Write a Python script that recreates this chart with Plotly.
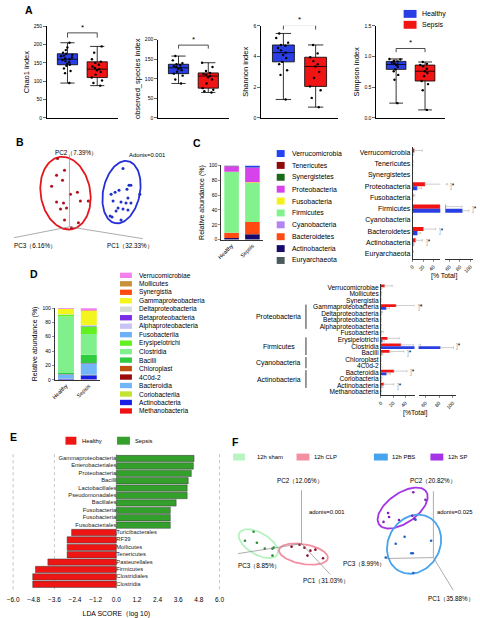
import numpy as np
import plotly.graph_objects as go

W, H = 480, 618
FONT = "Liberation Sans, Arial, Helvetica, sans-serif"

# ======================= DATA =======================
groups = ["Healthy", "Sepsis"]

# ---- A: alpha diversity (sample values per group) ----
chao1_healthy = [95, 122, 128, 135, 142, 145, 148, 152, 155, 158, 160, 162, 165, 168, 170, 172, 175, 178, 185, 192, 205]
chao1_sepsis = [88, 95, 102, 110, 118, 125, 130, 133, 136, 140, 145, 150, 153, 160, 178, 195]
obs_healthy = [88, 98, 108, 113, 118, 122, 125, 128, 130, 132, 135, 137, 140, 147, 158]
obs_sepsis = [65, 68, 72, 76, 88, 98, 104, 107, 110, 112, 115, 120, 130, 141]
shannon_healthy = [1.2, 2.8, 3.1, 3.5, 3.65, 3.9, 4.1, 4.25, 4.4, 4.55, 4.7, 4.75, 4.9, 5.2, 5.5]
shannon_sepsis = [0.7, 1.3, 1.8, 2.05, 2.6, 3.0, 3.35, 3.5, 3.7, 3.95, 4.2, 4.75]
simpson_healthy = [0.24, 0.62, 0.70, 0.76, 0.79, 0.83, 0.86, 0.87, 0.89, 0.90, 0.92, 0.93, 0.95, 0.96]
simpson_sepsis = [0.13, 0.45, 0.55, 0.60, 0.68, 0.73, 0.76, 0.80, 0.84, 0.86, 0.88, 0.91]
# box summaries: min, Q1, median, Q3, max
chao1_box_healthy = [95, 145, 160, 175, 205]
chao1_box_sepsis = [88, 110, 133, 153, 195]
obs_box_healthy = [88, 113, 128, 137, 158]
obs_box_sepsis = [65, 76, 107, 115, 141]
shannon_box_healthy = [1.2, 3.65, 4.25, 4.75, 5.5]
shannon_box_sepsis = [0.7, 2.05, 3.35, 3.95, 4.75]
simpson_box_healthy = [0.24, 0.79, 0.87, 0.92, 0.96]
simpson_box_sepsis = [0.13, 0.60, 0.76, 0.86, 0.91]
chao1_ticks = [0, 50, 100, 150, 200, 250]
obs_ticks = [0, 50, 100, 150, 200]
shannon_ticks = [0, 2, 4, 6]
simpson_ticks = [0, 0.5, 1.0, 1.5]

# ---- B: PCoA projected scores ----
b_sepsis_pc_x = [54, 61, 53, 59, 48, 67, 74, 53, 60, 57, 63, 77, 85, 61, 75, 68]
b_sepsis_pc_y = [157, 169, 174, 179, 185, 193, 191, 201, 202, 208, 207, 200, 200, 219, 222, 227]
b_healthy_pc_x = [120, 126, 128, 116, 112, 108, 124, 137, 125, 118, 123, 115, 113, 120, 125, 107, 109, 118, 110, 128]
b_healthy_pc_y = [167, 184, 184, 189, 191, 193, 188, 193, 197, 201, 202, 207, 210, 208, 209, 215, 216, 219, 200, 202]
# ellipse: centre x, centre y, semi-major, semi-minor, tilt(deg)
b_ellipse_sepsis = [62, 192, 37, 25, 9.5]
b_ellipse_healthy = [118.5, 191, 32, 18.5, -11.8]

# ---- C: phylum level (legend order, top -> bottom) ----
phyla = ["Verrucomicrobia", "Tenericutes", "Synergistetes", "Proteobacteria", "Fusobacteria",
         "Firmicutes", "Cyanobacteria", "Bacteroidetes", "Actinobacteria", "Euryarchaeota"]
phyla_colors = ["#2342F2", "#8E0A0A", "#1B6A1B", "#D743EA", "#F2F21A",
                "#82F28C", "#B383F2", "#FF4A12", "#170A6B", "#4A5B5B"]
phyla_stack_healthy = [0.6, 0.3, 0.1, 7.6, 0.3, 81.6, 0.1, 7.3, 2.0, 0.1]
phyla_stack_sepsis = [2.8, 0.2, 0.1, 19.5, 1.0, 52.5, 0.1, 16.5, 7.0, 0.3]
phyla_mean_healthy = [0.5, 0.2, 0.0, 9.0, 0.2, 85.0, 0.0, 9.5, 1.5, 0.0]
phyla_sd_healthy = [1.0, 0.3, 0.0, 8.0, 0.3, 12.0, 0.0, 6.0, 1.5, 0.0]
phyla_mean_sepsis = [3.5, 0.3, 0.0, 24.0, 1.5, 53.0, 0.0, 21.0, 6.0, 0.5]
phyla_sd_sepsis = [15.0, 0.5, 0.0, 32.0, 3.0, 31.0, 0.0, 23.0, 13.0, 1.0]
phyla_sig = ["", "", "", "*", "", "*", "", "*", "*", ""]

# ---- D: class level (legend order, top -> bottom) ----
classes = ["Verrucomicrobiae", "Mollicutes", "Synergistia", "Gammaproteobacteria", "Deltaproteobacteria",
           "Betaproteobacteria", "Alphaproteobacteria", "Fusobacteriia", "Erysipelotrichi", "Clostridia",
           "Bacilli", "Chloroplast", "4C0d-2", "Bacteroidia", "Coriobacteriia", "Actinobacteria", "Methanobacteria"]
classes_bar_labels = ["Verrucomicrobiae", "Mollicutes", "Synergistia", "Gammaproteobacteria", "Deltaproteobacteria",
                      "Betaproteobacteria", "Alphaproteobacteria", "Fusobacteria", "Erysipelotrichi", "Clostridia",
                      "Bacilli", "Chloroplast", "4C0d-2", "Bacteroidia", "Coriobacteria", "Actinobacteria", "Methanobacteria"]
class_colors = ["#F580EE", "#C8903A", "#FF4A12", "#F5F51E", "#D5DCD5", "#7A2CE6", "#C9C3F5", "#6FB1F6",
                "#62F01E", "#80F08C", "#2ECC3E", "#C0500E", "#9A0B0B", "#72B6F8", "#C2E332", "#1A1FE6", "#F01212"]
class_stack_healthy = [0.8, 0.4, 0.1, 7.3, 0.2, 0.1, 0.1, 0.3, 2.5, 78.6, 1.5, 0.1, 0.1, 6.0, 0.3, 1.5, 0.0]
class_stack_sepsis = [2.8, 0.6, 0.3, 19.5, 1.5, 0.3, 0.2, 0.3, 10.5, 28.7, 11.5, 0.1, 0.2, 16.2, 0.5, 6.0, 0.5]
class_mean_healthy = [0.5, 0.2, 0.0, 9.0, 0.3, 0.1, 0.1, 0.2, 2.5, 82.0, 1.5, 0.0, 0.0, 9.5, 0.3, 1.5, 0.0]
class_sd_healthy = [1.0, 0.3, 0.0, 5.0, 0.3, 0.1, 0.1, 0.3, 3.0, 19.0, 2.0, 0.0, 0.0, 6.0, 0.5, 2.0, 0.0]
class_mean_sepsis = [6.5, 0.5, 0.2, 25.0, 1.0, 0.3, 0.3, 1.0, 11.0, 33.0, 14.5, 0.0, 0.0, 21.5, 0.5, 5.0, 0.5]
class_sd_sepsis = [12.0, 0.8, 0.3, 30.0, 2.0, 0.5, 0.5, 3.0, 19.0, 20.0, 23.0, 0.0, 0.0, 21.0, 1.0, 16.0, 1.0]
class_sig = ["", "", "", "*", "", "", "", "", "", "*", "*", "", "", "*", "", "*", ""]
class_phylum_groups = [("Proteobacteria", 3, 6), ("Firmicutes", 8, 10), ("Cyanobacteria", 11, 12), ("Actinobacteria", 13, 15)]

# ---- E: LEfSe ----
lefse_taxa = ["Gammaproteobacteria", "Enterobacteriales", "Proteobacteria", "Bacilli", "Lactobacillales",
              "Pseudomonadales", "Bacillales", "Fusobacteria", "Fusobacteria", "Fusobacteriales",
              "Turicibacterales", "RF39", "Mollicutes", "Tenericutes", "Pasteurellales", "Firmicutes",
              "Clostridiales", "Clostridia"]
lefse_lda = [4.52, 4.48, 4.36, 4.18, 4.12, 4.12, 3.48, 3.14, 3.14, 3.14,
             -2.60, -2.86, -2.86, -2.86, -3.98, -4.70, -4.86, -4.86]
lda_ticks = [-6.0, -4.8, -3.6, -2.4, -1.2, 0.0, 1.2, 2.4, 3.6, 4.8, 6.0]
lda_grid = [-6.0, -3.6, 0.0, 6.0]

# ---- F: PCoA of mouse groups (projected scores) ----
f_sham_x = [243, 251.7, 255, 263, 270.7, 272, 270.7]
f_sham_y = [543, 534, 545, 551, 551, 550, 558]
f_clp_x = [290, 298, 303, 309, 314, 306, 321.7]
f_clp_y = [549, 547, 550, 553, 552, 558, 560.7]
f_sp_x = [412.7, 425, 387.3, 388.3, 398.3, 382.7, 411.7, 414]
f_sp_y = [494, 501.7, 515, 519, 522, 524, 517.7, 521]
f_pbs_x = [404, 395, 430.7, 410.7, 412.3, 385, 412.7, 415]
f_pbs_y = [539, 546, 543, 555.7, 555.7, 560, 575.7, 521.7]
f_ellipse_sham = [256.5, 546, 22, 11, 60]
f_ellipse_clp = [302, 556.5, 25, 10, 80]
f_ellipse_sp = [402, 510, 29, 15, -55]
f_ellipse_pbs = [413.5, 546.5, 31, 26, -30]

# ======================= STYLE / HELPERS =======================
BLUE = "#2A3FE3"
RED = "#F01414"
GREEN_E = "#33A02C"
RED_E = "#EE1515"

fig = go.Figure()
layout = dict(width=W, height=H, margin=dict(l=0, r=0, t=0, b=0, pad=0),
              paper_bgcolor="white", plot_bgcolor="rgba(0,0,0,0)", showlegend=False,
              barmode="overlay", boxmode="overlay",
              font=dict(family=FONT, size=6, color="black"))
shapes, annots = [], []
axn = [0]


def px(x):
    return x / W


def py(y):
    return 1 - y / H


def add_axes(x0, x1, y0, y1, xkw=None, ykw=None):
    axn[0] += 1
    n = axn[0]
    s = "" if n == 1 else str(n)
    base = dict(showgrid=False, zeroline=False, showline=False, showticklabels=False, ticks="")
    xa = dict(base, domain=[px(x0), px(x1)], anchor="y" + s)
    ya = dict(base, domain=[py(y1), py(y0)], anchor="x" + s)
    if xkw:
        xa.update(xkw)
    if ykw:
        ya.update(ykw)
    layout["xaxis" + s] = xa
    layout["yaxis" + s] = ya
    return "x" + s, "y" + s


def text(x, y, s, size=6, anchor="left", bold=False, color="black"):
    annots.append(dict(xref="paper", yref="paper", x=px(x), y=py(y), text=("<b>%s</b>" % s) if bold else s,
                       showarrow=False, xanchor=anchor, yanchor="middle",
                       font=dict(size=size, color=color, family=FONT)))


def rect(x0, y0, x1, y1, color):
    shapes.append(dict(type="rect", xref="paper", yref="paper", x0=px(x0), x1=px(x1), y0=py(y1), y1=py(y0),
                       fillcolor=color, line=dict(width=0), layer="above"))


def ellipse_xy(p, n=120):
    cx, cy, a, b, phi = p
    t = np.linspace(0, 2 * np.pi, n)
    ph = np.radians(phi)
    ux, uy = np.sin(ph), np.cos(ph)
    vx, vy = np.cos(ph), -np.sin(ph)
    return cx + a * np.cos(t) * ux + b * np.sin(t) * vx, cy + a * np.cos(t) * uy + b * np.sin(t) * vy


def axline(xa, ya, x0, y0, x1, y1, color="#8a8a8a", w=0.7):
    shapes.append(dict(type="line", xref=xa, yref=ya, x0=x0, y0=y0, x1=x1, y1=y1,
                       line=dict(color=color, width=w)))


# ======================= PANEL A =======================
A_metrics = [
    ("Chao1 index", chao1_healthy, chao1_sepsis, chao1_box_healthy, chao1_box_sepsis, chao1_ticks, None),
    ("observed_species index", obs_healthy, obs_sepsis, obs_box_healthy, obs_box_sepsis, obs_ticks, None),
    ("Shannon index", shannon_healthy, shannon_sepsis, shannon_box_healthy, shannon_box_sepsis, shannon_ticks, None),
    ("Simpson index", simpson_healthy, simpson_sepsis, simpson_box_healthy, simpson_box_sepsis, simpson_ticks, ".1f"),
]
A_frames = [(43, 115, 23.5, 116), (155, 227, 37, 116), (259, 337, 23, 116), (375, 445, 23, 116)]
A_brackets = [(219, 232), (177, 186), (5.75, 6.06), (1.07, 1.13)]

for (title, hv, sv, bh, bs, tks, fmt), fr, br in zip(A_metrics, A_frames, A_brackets):
    xa, ya = add_axes(*fr,
                      xkw=dict(range=[-0.7, 1.7], showline=True, linecolor="black", linewidth=1),
                      ykw=dict(range=[0, tks[-1]], tickvals=tks, showticklabels=True, showline=True,
                               linecolor="black", linewidth=1, ticks="outside", ticklen=2.5, tickwidth=0.8,
                               tickfont=dict(size=5), tickformat=fmt,
                               title=dict(text=title, font=dict(size=7.5), standoff=3)))
    for gi, (vals, box, col) in enumerate([(hv, bh, BLUE), (sv, bs, RED)]):
        fig.add_trace(go.Box(x=[gi], lowerfence=[box[0]], q1=[box[1]], median=[box[2]], q3=[box[3]],
                             upperfence=[box[4]], fillcolor=col, line=dict(color="black", width=0.8),
                             width=0.68, whiskerwidth=0.7, boxpoints=False, xaxis=xa, yaxis=ya, hoverinfo="skip"))
        fig.add_trace(go.Box(x=[gi] * len(vals), y=vals, boxpoints="all", jitter=0.7, pointpos=0,
                             fillcolor="rgba(0,0,0,0)", line=dict(color="rgba(0,0,0,0)", width=0),
                             marker=dict(color="black", size=2.4), width=0.68, xaxis=xa, yaxis=ya,
                             hoverinfo="skip"))
    lo, hi = br
    fig.add_trace(go.Scatter(x=[0, 0, 1, 1], y=[lo, hi, hi, lo], mode="lines", cliponaxis=False,
                             line=dict(color="black", width=0.7), xaxis=xa, yaxis=ya, hoverinfo="skip"))
    top = tks[-1]
    extra_px = max(0.0, (hi - top) / top * (fr[3] - fr[2]))
    annots.append(dict(xref=xa, yref=ya, x=0.5, y=min(hi, top), text="*", showarrow=False, yanchor="bottom",
                       yshift=-1 + extra_px, font=dict(size=8)))

rect(403, 7, 416, 15, BLUE)
rect(403, 18, 416, 26, RED)
text(419, 11, "Healthy", 7)
text(419, 22, "Sepsis", 7)

# ======================= PANEL B =======================
xb, yb = add_axes(0, 170, 125, 255, xkw=dict(range=[0, 170]), ykw=dict(range=[255, 125]))
axline(xb, yb, 66, 153, 66, 226)
axline(xb, yb, 66, 226, 10, 237)
axline(xb, yb, 66, 226, 140, 238)
for el, col in [(b_ellipse_sepsis, "#E4161C"), (b_ellipse_healthy, "#2430D6")]:
    ex, ey = ellipse_xy(el)
    fig.add_trace(go.Scatter(x=ex, y=ey, mode="lines", line=dict(color=col, width=1.8), xaxis=xb, yaxis=yb,
                             hoverinfo="skip"))
fig.add_trace(go.Scatter(x=b_sepsis_pc_x, y=b_sepsis_pc_y, mode="markers", marker=dict(color="#B0101A", size=3),
                         xaxis=xb, yaxis=yb, hoverinfo="skip"))
fig.add_trace(go.Scatter(x=b_healthy_pc_x, y=b_healthy_pc_y, mode="markers", marker=dict(color="#2030C8", size=3),
                         xaxis=xb, yaxis=yb, hoverinfo="skip"))
text(73, 151, "PC2（7.39%）", 6.3, "center")
text(144, 153, "Adonis=0.001", 5.9, "center")
text(31, 245, "PC3（6.16%）", 6.3, "center")
text(127, 245, "PC1（32.33%）", 6.3, "center")


# ======================= STACKED BARS (C, D) =======================
def stacked(frame, colors, healthy, sepsis):
    xa, ya = add_axes(*frame,
                      xkw=dict(type="category", range=[-0.5, 1.5], showticklabels=True, tickangle=-45,
                               tickfont=dict(size=5.5), showline=True, linecolor="black", linewidth=0.8),
                      ykw=dict(range=[0, 100], tickvals=[0, 20, 40, 60, 80, 100], showticklabels=True,
                               showline=True, linecolor="black", linewidth=0.8, ticks="outside", ticklen=2,
                               tickwidth=0.6, tickfont=dict(size=5),
                               title=dict(text="Relative abundance (%)", font=dict(size=7), standoff=3)))
    vals = np.array([healthy, sepsis], dtype=float)
    base = np.zeros(2)
    for i in range(len(colors) - 1, -1, -1):
        v = vals[:, i]
        fig.add_trace(go.Bar(x=groups, y=v, base=base.copy(), width=0.7,
                             marker=dict(color=colors[i], line=dict(width=0)), xaxis=xa, yaxis=ya,
                             hoverinfo="skip"))
        base = base + v


stacked((219, 261, 164, 239), phyla_colors, phyla_stack_healthy, phyla_stack_sepsis)
stacked((51, 97, 308, 380.5), class_colors, class_stack_healthy, class_stack_sepsis)


# ======================= BROKEN-AXIS BAR CHARTS (C, D) =======================
def broken_bars(seg1, seg2, ypx, cats, mh, sdh, ms, sds, sig, r1, r2, t1, t2, labsize, barw):
    n = len(cats)
    ycommon = dict(type="category", range=[n - 0.5, -0.5])
    ax1 = add_axes(seg1[0], seg1[1], ypx[0], ypx[1],
                   xkw=dict(range=r1, tickvals=t1, showticklabels=True, tickangle=-45, tickfont=dict(size=5),
                            showline=True, linecolor="black", linewidth=0.8, ticks="outside", ticklen=2,
                            tickwidth=0.6),
                   ykw=dict(ycommon, showticklabels=True, tickmode="array", tickvals=cats, ticktext=cats,
                            tickfont=dict(size=labsize), showline=True, linecolor="black", linewidth=0.8))
    ax2 = add_axes(seg2[0], seg2[1], ypx[0], ypx[1],
                   xkw=dict(range=r2, tickvals=t2, showticklabels=True, tickangle=-45, tickfont=dict(size=5),
                            showline=True, linecolor="black", linewidth=0.8, ticks="outside", ticklen=2,
                            tickwidth=0.6),
                   ykw=dict(ycommon))
    for xa, ya in (ax1, ax2):
        for vals, sd, col, off in ((ms, sds, RED, -barw), (mh, sdh, BLUE, 0.0)):
            fig.add_trace(go.Bar(y=cats, x=vals, orientation="h", offset=off, width=barw,
                                 marker=dict(color=col, line=dict(width=0)),
                                 error_x=dict(type="data", array=sd, arrayminus=[0] * n, symmetric=False,
                                              color="#b8b8b8", thickness=0.7, width=1.2),
                                 xaxis=xa, yaxis=ya, hoverinfo="skip"))
    for i, s in enumerate(sig):
        if not s:
            continue
        end = max(ms[i] + sds[i], mh[i] + sdh[i])
        xa, ya = ax1 if end <= r1[1] else ax2
        annots.append(dict(xref=xa, yref=ya, x=end, y=cats[i], xanchor="left", yanchor="middle", xshift=1,
                           showarrow=False, text="<span style='color:#a0a0a0'>]</span>*",
                           font=dict(size=6.5)))
    return ax1, ax2


broken_bars((412, 440), (445, 473), (145.3, 258.7), phyla, phyla_mean_healthy, phyla_sd_healthy,
            phyla_mean_sepsis, phyla_sd_sepsis, phyla_sig, [0, 53], [52, 105], [0, 20, 40], [60, 80, 100],
            7, 0.36)
text(444, 276, "[% Total]", 6.9, "center")

dax1, dax2 = broken_bars((380, 414), (418, 456), (283.7, 396.3), classes_bar_labels, class_mean_healthy,
                         class_sd_healthy, class_mean_sepsis, class_sd_sepsis, class_sig, [0, 55], [50, 105],
                         [0, 20, 40], [60, 80, 100], 6.6, 0.42)
text(415, 414, "[%Total]", 6.9, "center")
for name, r0, r1 in class_phylum_groups:
    shapes.append(dict(type="line", xref="paper", yref=dax1[1], x0=px(304.5), x1=px(304.5),
                       y0=r0 - 0.35, y1=r1 + 0.35, line=dict(color="black", width=0.8)))
    annots.append(dict(xref="paper", yref=dax1[1], x=px(277), y=(r0 + r1) / 2, text=name, showarrow=False,
                       xanchor="center", yanchor="middle", font=dict(size=6.9)))

# ---- legends C & D ----
for i, (nm, col) in enumerate(zip(phyla, phyla_colors)):
    y = 152 + 12 * i
    rect(275, y - 3.5, 283, y + 3.5, col)
    text(288, y, nm, 6.9)
for i, (nm, col) in enumerate(zip(classes, class_colors)):
    y = 275 + 8.56 * i
    rect(117, y - 2.7, 129, y + 2.7, col)
    text(134, y, nm, 6.6)

# ======================= PANEL E =======================
xe, ye = add_axes(4, 222.5, 453, 592,
                  xkw=dict(range=[-6.3, 6.3], tickvals=lda_ticks,
                           ticktext=[("%.1f" % v).replace("-", "−") for v in lda_ticks],
                           showticklabels=True, tickfont=dict(size=6.5), ticks="outside", ticklen=4,
                           tickcolor="rgba(0,0,0,0)",
                           title=dict(text="LDA SCORE（log 10)", font=dict(size=6.9), standoff=9)),
                  ykw=dict(range=[len(lefse_taxa) - 0.33, -0.94]))
for g in lda_grid:
    shapes.append(dict(type="line", xref=xe, yref="paper", x0=g, x1=g, y0=py(592), y1=py(453),
                       line=dict(color="#9a9a9a", width=0.6, dash="dot"), layer="below"))
lda = np.array(lefse_lda)
idx = np.arange(len(lefse_taxa))
pos = lda > 0
fig.add_trace(go.Bar(x=lda[pos], y=idx[pos], orientation="h", width=0.86,
                     marker=dict(color=GREEN_E, line=dict(color="#3c3c3c", width=0.5)),
                     xaxis=xe, yaxis=ye, hoverinfo="skip"))
fig.add_trace(go.Bar(x=lda[~pos], y=idx[~pos], orientation="h", width=0.86,
                     marker=dict(color=RED_E, line=dict(color="#3c3c3c", width=0.5)),
                     xaxis=xe, yaxis=ye, hoverinfo="skip"))
fig.add_trace(go.Scatter(x=[0] * len(idx), y=idx, mode="text", text=lefse_taxa,
                         textposition=["middle left" if p else "middle right" for p in pos],
                         textfont=dict(size=5.8, color="#222"), xaxis=xe, yaxis=ye, hoverinfo="skip",
                         cliponaxis=False))
rect(62, 438, 73, 446, RED_E)
text(77, 442, "Healthy", 5.8)
rect(114, 438, 127, 446, GREEN_E)
text(130, 442, "Sepsis", 5.8)

# ======================= PANEL F =======================
xf, yf = add_axes(225, 480, 470, 612, xkw=dict(range=[225, 480]), ykw=dict(range=[612, 470]))
axline(xf, yf, 300, 492, 300, 546)
axline(xf, yf, 300, 546, 236, 556)
axline(xf, yf, 300, 546, 329, 577)
axline(xf, yf, 433, 493, 433, 560)
axline(xf, yf, 433, 560, 384, 561)
axline(xf, yf, 433, 560, 453, 593)
for el, col in [(f_ellipse_sham, "#B5F2BE"), (f_ellipse_clp, "#F48FA2"),
                (f_ellipse_sp, "#A434E6"), (f_ellipse_pbs, "#46A3EE")]:
    ex, ey = ellipse_xy(el)
    fig.add_trace(go.Scatter(x=ex, y=ey, mode="lines", line=dict(color=col, width=1.8), xaxis=xf, yaxis=yf,
                             hoverinfo="skip"))
for xs, ys, col in [(f_sham_x, f_sham_y, "#2E8B3A"), (f_clp_x, f_clp_y, "#8B1030"),
                    (f_sp_x, f_sp_y, "#7E1FB8"), (f_pbs_x, f_pbs_y, "#1F63C8")]:
    fig.add_trace(go.Scatter(x=xs, y=ys, mode="markers", marker=dict(color=col, size=2.6), xaxis=xf, yaxis=yf,
                             hoverinfo="skip"))
text(298, 483, "PC2（12.06%）", 6.3, "center")
text(326, 514, "adonis=0.001", 5.9, "center")
text(257, 569, "PC3（8.85%）", 6.3, "center")
text(325, 584, "PC1（31.03%）", 6.3, "center")
text(433, 483, "PC2（20.82%）", 6.3, "center")
text(455, 514, "adonis=0.025", 5.9, "center")
text(363, 567, "PC3（8.99%）", 6.3, "center")
text(451, 602, "PC1（35.88%）", 6.3, "center")
for (x0, x1, tx, lab, col) in [(231, 243, 253, "12h sham", "#B8F4C2"), (295, 308, 311, "12h CLP", "#F48FA2"),
                               (373, 387, 389, "12h PBS", "#46A3EE"), (430, 443, 446, "12h SP", "#A434E6")]:
    rect(x0, 455, x1, 462, col)
    text(tx, 458.5, lab, 5.9)

# ======================= PANEL LETTERS =======================
for lt, x, y in [("A", 25, 7), ("B", 16, 140), ("C", 195, 141), ("D", 30, 274), ("E", 10, 438), ("F", 233, 443)]:
    text(x, y, lt, 10.5, "center", bold=True)

layout["shapes"] = shapes
layout["annotations"] = annots
fig.update_layout(**layout)
fig.write_html("out.html", config={"displayModeBar": False, "staticPlot": True},
               post_script="document.body.style.margin='0';document.body.style.overflow='hidden';")
